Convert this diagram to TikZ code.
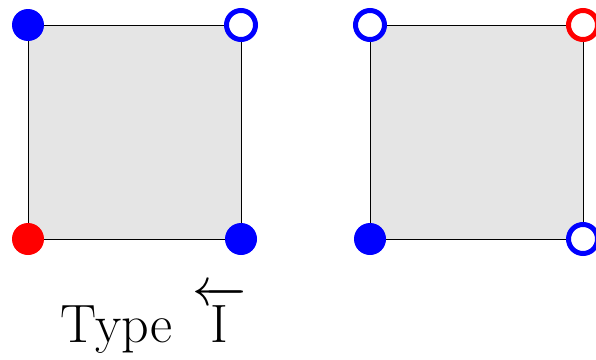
\RequirePackage{fix-cm}
\documentclass[tikz,border=0pt]{standalone}
\usepackage{amsmath}
\begin{document}
\begin{tikzpicture}[x=1pt,y=-1pt,
  sq/.style={draw=black,line width=1pt,fill=gray!20},
  fb/.style={circle,fill=blue,minimum size=32pt,inner sep=0pt},
  fr/.style={circle,fill=red,minimum size=32pt,inner sep=0pt},
  ob/.style={circle,draw=blue,fill=white,line width=5pt,minimum size=29pt,inner sep=0pt},
  orr/.style={circle,draw=red,fill=white,line width=5pt,minimum size=29pt,inner sep=0pt},
  big/.style={inner sep=0pt,font=\fontsize{54}{60}\selectfont}]
\useasboundingbox (0,0) rectangle (596,359);
\coordinate (a1) at (28,25);
\coordinate (a2) at (241,25);
\coordinate (a3) at (241,239);
\coordinate (a4) at (28,239);
\coordinate (b1) at (370,25);
\coordinate (b2) at (583,25);
\coordinate (b3) at (583,239);
\coordinate (b4) at (370,239);
\draw[sq] (a1) -- (a2) -- (a3) -- (a4) -- cycle;
\draw[sq] (b1) -- (b2) -- (b3) -- (b4) -- cycle;
\node[fb] (pa1) at (a1) {};
\node[ob] (pa2) at (a2) {};
\node[fb] (pa3) at (a3) {};
\node[fr] (pa4) at (a4) {};
\node[ob] (pb1) at (b1) {};
\node[orr] (pb2) at (b2) {};
\node[ob] (pb3) at (b3) {};
\node[fb] (pb4) at (b4) {};
\node[big,anchor=base west] (lbl) at (60.5,342) {Type};
\node[big,anchor=base] (lbli) at (219.5,342) {$\overleftarrow{\mathrm{I}}$};
\end{tikzpicture}
\end{document}
